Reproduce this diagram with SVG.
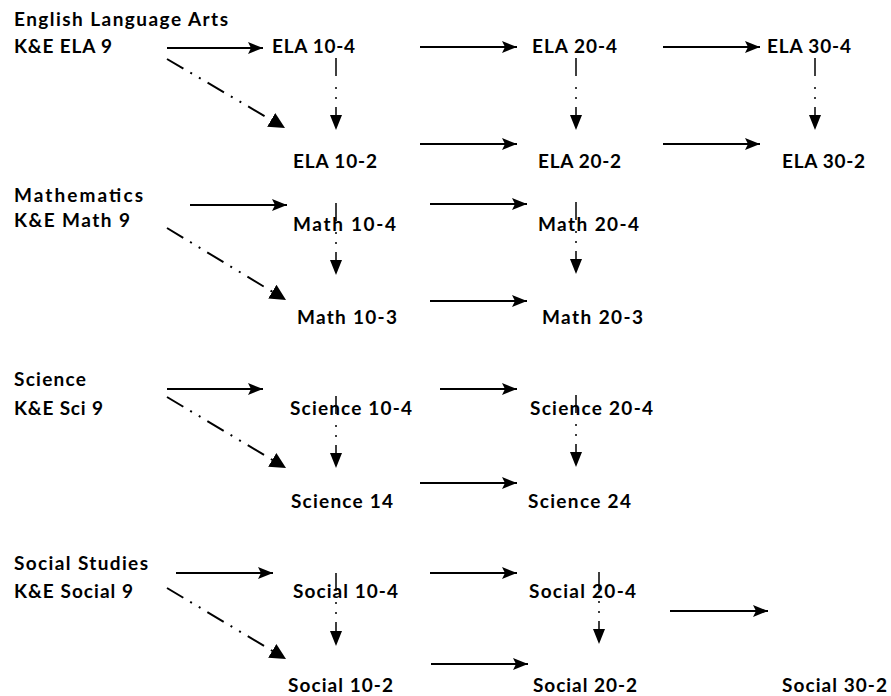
<svg xmlns="http://www.w3.org/2000/svg" width="891" height="696" viewBox="0 0 891 696">
<style>
text{font-family:Lato,"Liberation Sans",sans-serif;font-weight:bold;font-size:19px;fill:#000}
.h{stroke:#000;stroke-width:2;fill:none}
.v{stroke:#000;stroke-width:1.5;fill:none;stroke-dasharray:18 11 2 8 2 8}
.d{stroke:#000;stroke-width:2;fill:none;stroke-dasharray:19 8 2 8 2 8}
</style>
<defs>
<marker id="ah" markerUnits="userSpaceOnUse" markerWidth="16" markerHeight="14" refX="15" refY="7" orient="auto"><path d="M0,1 L15,7 L0,13 L3,7 Z" fill="#000"/></marker>
<marker id="av" markerUnits="userSpaceOnUse" markerWidth="16" markerHeight="14" refX="15" refY="7" orient="auto"><path d="M0,1 L15,7 L0,13 Z" fill="#000"/></marker>
<marker id="ad" markerUnits="userSpaceOnUse" markerWidth="18" markerHeight="18" refX="16" refY="9" orient="auto"><path d="M0,1 L16,9 L0,17 Z" fill="#000"/></marker>
</defs>
<rect width="891" height="696" fill="#fff"/>
<g id="connectors">
<path class="h" marker-end="url(#ah)" d="M167,48 H263"/>
<path class="h" marker-end="url(#ah)" d="M420,47 H517"/>
<path class="h" marker-end="url(#ah)" d="M663,47 H760"/>
<path class="h" marker-end="url(#ah)" d="M420,144 H517"/>
<path class="h" marker-end="url(#ah)" d="M663,144 H760"/>
<path class="d" marker-end="url(#ad)" d="M167,59 L285,128"/>
<path class="v" marker-end="url(#av)" d="M336,58 V130"/>
<path class="v" marker-end="url(#av)" d="M576,58 V130"/>
<path class="v" marker-end="url(#av)" d="M815,58 V130"/>
<path class="h" marker-end="url(#ah)" d="M190,205 H287"/>
<path class="h" marker-end="url(#ah)" d="M430,204 H527"/>
<path class="h" marker-end="url(#ah)" d="M430,301 H527"/>
<path class="d" marker-end="url(#ad)" d="M167,228 L286,300"/>
<path class="v" marker-end="url(#av)" d="M336,203 V275"/>
<path class="v" marker-end="url(#av)" d="M576,202 V274"/>
<path class="h" marker-end="url(#ah)" d="M167,389 H263"/>
<path class="h" marker-end="url(#ah)" d="M440,389 H517"/>
<path class="h" marker-end="url(#ah)" d="M420,483 H517"/>
<path class="d" marker-end="url(#ad)" d="M167,397 L286,468"/>
<path class="v" marker-end="url(#av)" d="M336,396 V468"/>
<path class="v" marker-end="url(#av)" d="M576,395 V467"/>
<path class="h" marker-end="url(#ah)" d="M176,573 H273"/>
<path class="h" marker-end="url(#ah)" d="M430,573 H517"/>
<path class="h" marker-end="url(#ah)" d="M431,664 H528"/>
<path class="h" marker-end="url(#ah)" d="M670,611 H768"/>
<path class="d" marker-end="url(#ad)" d="M167,588 L286,659"/>
<path class="v" marker-end="url(#av)" d="M336,573 V646"/>
<path class="v" marker-end="url(#av)" d="M599,572 V644"/>
</g>
<g id="ela-title"><text x="14" y="26" textLength="214">English Language Arts</text></g>
<g id="ke-ela9"><text x="14" y="53" textLength="98">K&amp;E ELA 9</text></g>
<g id="ela10-4"><text x="272" y="53" textLength="83">ELA 10-4</text></g>
<g id="ela10-2"><text x="293" y="168" textLength="84">ELA 10-2</text></g>
<g id="ela20-4"><text x="532" y="53" textLength="85">ELA 20-4</text></g>
<g id="ela20-2"><text x="538" y="168" textLength="83">ELA 20-2</text></g>
<g id="ela30-4"><text x="767" y="53" textLength="84">ELA 30-4</text></g>
<g id="ela30-2"><text x="782" y="168" textLength="83">ELA 30-2</text></g>
<g id="math-title"><text x="14" y="202" textLength="129">Mathematics</text></g>
<g id="ke-math9"><text x="14" y="227" textLength="116">K&amp;E Math 9</text></g>
<g id="math10-4"><text x="293" y="231" textLength="103">Math 10-4</text></g>
<g id="math10-3"><text x="297" y="324" textLength="100">Math 10-3</text></g>
<g id="math20-4"><text x="538" y="231" textLength="101">Math 20-4</text></g>
<g id="math20-3"><text x="542" y="324" textLength="101">Math 20-3</text></g>
<g id="sci-title"><text x="14" y="386" textLength="72">Science</text></g>
<g id="ke-sci9"><text x="14" y="415" textLength="89">K&amp;E Sci 9</text></g>
<g id="sci10-4"><text x="290" y="415" textLength="122">Science 10-4</text></g>
<g id="sci14"><text x="291" y="508" textLength="102">Science 14</text></g>
<g id="sci20-4"><text x="530" y="415" textLength="123">Science 20-4</text></g>
<g id="sci24"><text x="528" y="508" textLength="103">Science 24</text></g>
<g id="soc-title"><text x="14" y="570" textLength="134">Social Studies</text></g>
<g id="ke-soc9"><text x="14" y="598" textLength="119">K&amp;E Social 9</text></g>
<g id="soc10-4"><text x="293" y="598" textLength="105">Social 10-4</text></g>
<g id="soc10-2"><text x="288" y="692" textLength="105">Social 10-2</text></g>
<g id="soc20-4"><text x="529" y="598" textLength="107">Social 20-4</text></g>
<g id="soc20-2"><text x="533" y="692" textLength="104">Social 20-2</text></g>
<g id="soc30-2"><text x="782" y="692" textLength="105">Social 30-2</text></g>
</svg>
